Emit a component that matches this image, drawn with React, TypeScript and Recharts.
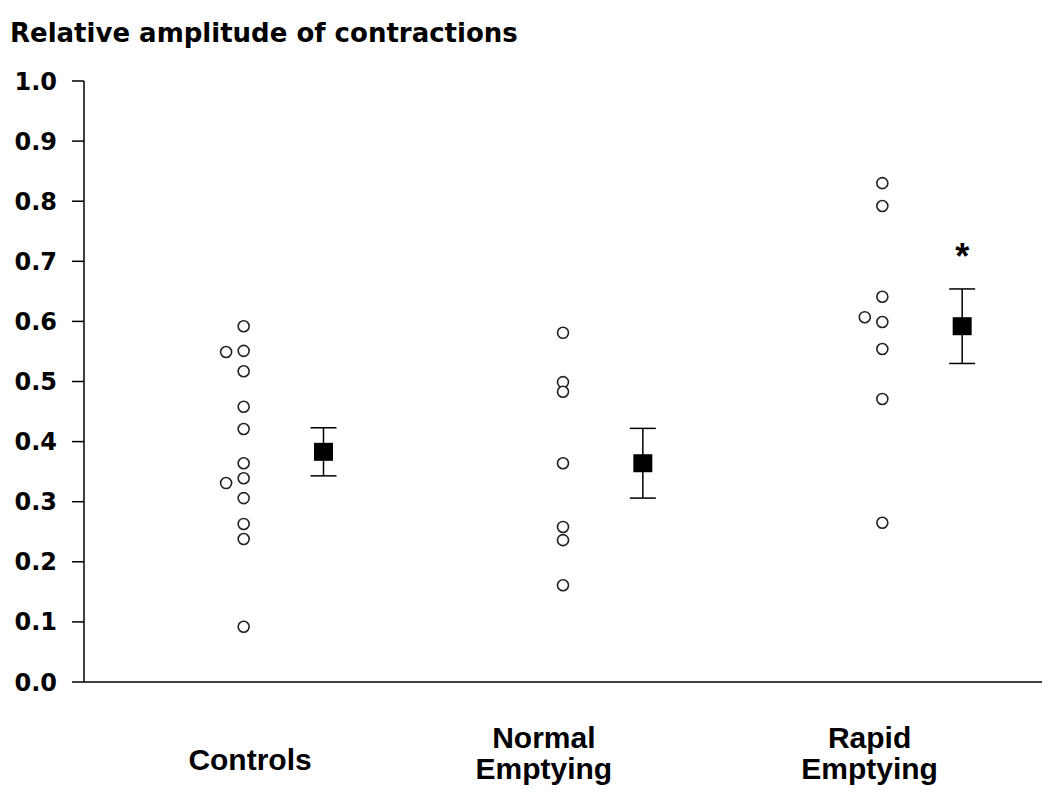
import { ScatterChart, Scatter, XAxis, YAxis, ErrorBar, Label } from 'recharts';

const groups = ['Controls', 'Normal\nEmptying', 'Rapid\nEmptying'];
// where each group's label sits on the x scale (groups span 0-1, 1-2, 2-3)
const labelPos = [0.52, 1.44, 2.46];

// individual subjects, main column and the few shifted to the left
const controlsMain = [0.592, 0.551, 0.517, 0.458, 0.421, 0.364, 0.339, 0.306, 0.263, 0.238, 0.092];
const controlsSide = [0.549, 0.331];
const normalMain = [0.581, 0.499, 0.483, 0.364, 0.258, 0.236, 0.161];
const normalSide: number[] = [];
const rapidMain = [0.83, 0.792, 0.641, 0.599, 0.554, 0.471, 0.265];
const rapidSide = [0.607];

const means = [0.383, 0.364, 0.592];
const sems = [0.04, 0.058, 0.062];
const significant = [false, false, true];

const yTicks = [0, 0.1, 0.2, 0.3, 0.4, 0.5, 0.6, 0.7, 0.8, 0.9, 1.0];

const mainCols = [controlsMain, normalMain, rapidMain];
const sideCols = [controlsSide, normalSide, rapidSide];

const individual = mainCols.flatMap((vals, i) => vals.map((v) => ({ x: i + 0.5, y: v })))
  .concat(sideCols.flatMap((vals, i) => vals.map((v) => ({ x: i + 0.445, y: v }))));

const meanData = means.map((m, i) => ({ x: i + 0.75, y: m, sem: sems[i] }));
const starData = meanData.filter((_, i) => significant[i]).map((d) => ({ x: d.x, y: d.y + d.sem }));

const Circle = (props: any) => (
  <circle cx={props.cx} cy={props.cy} r={5.5} fill="#fff" stroke="#222" strokeWidth={1.6} />
);

const Square = (props: any) => (
  <rect x={props.cx - 9.5} y={props.cy - 9} width={19} height={18} fill="#000" />
);

const Star = (props: any) => (
  <text x={props.cx} y={props.cy - 20} textAnchor="middle" fontSize={36} fontWeight="bold"
    fontFamily="Liberation Sans, Arial, sans-serif" fill="#000">*</text>
);

const GroupTick = (props: any) => {
  const { x, y, index } = props;
  const lines = groups[index].split('\n');
  const offsets = lines.length === 1 ? [88] : [66, 97];
  return (
    <g>
      {lines.map((ln, k) => (
        <text key={k} x={x} y={y + offsets[k]} textAnchor="middle" fontSize={30} fontWeight="bold"
          fontFamily="Liberation Sans, Arial, sans-serif" fill="#000">{ln}</text>
      ))}
    </g>
  );
};

export default function App() {
  return (
    <div style={{ width: 1050, height: 809 }}>
      <style>{'body{margin:0}'}</style>
      <ScatterChart width={1050} height={809} margin={{ top: 81, right: 8, left: 0, bottom: 0 }}>
        <XAxis type="number" dataKey="x" domain={[0, 3]} ticks={labelPos} tick={<GroupTick />}
          tickLine={false} tickSize={0} tickMargin={0} height={127} interval={0}
          axisLine={{ stroke: '#000', strokeWidth: 1.5 }} />
        <YAxis type="number" dataKey="y" domain={[0, 1]} ticks={yTicks} width={84} interval={0}
          tickFormatter={(v: number) => v.toFixed(1)} tickSize={12} tickMargin={15}
          axisLine={{ stroke: '#000', strokeWidth: 1.5 }} tickLine={{ stroke: '#000', strokeWidth: 1.5 }}
          tick={{ fontSize: 24, fontWeight: 'bold', fill: '#000', fontFamily: 'DejaVu Sans, sans-serif' }}>
          <Label content={() => (
            <text x={10} y={42} fontSize={26} fontWeight="bold" fill="#000"
              fontFamily="DejaVu Sans, sans-serif">Relative amplitude of contractions</text>
          )} />
        </YAxis>
        <Scatter data={individual} shape={<Circle />} isAnimationActive={false} />
        <Scatter data={meanData} shape={<Square />} isAnimationActive={false}>
          <ErrorBar dataKey="sem" direction="y" width={13} stroke="#000" strokeWidth={1.5} />
        </Scatter>
        <Scatter data={starData} shape={<Star />} isAnimationActive={false} />
      </ScatterChart>
    </div>
  );
}
